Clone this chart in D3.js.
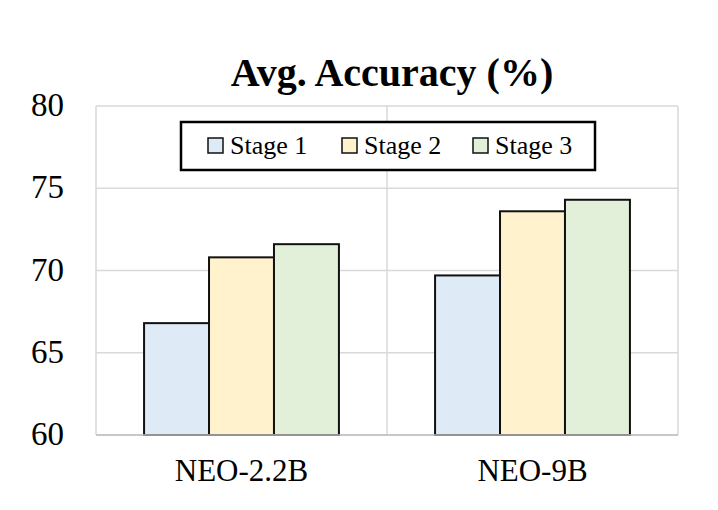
<!DOCTYPE html>
<html>
<head>
<meta charset="utf-8">
<script src="https://cdn.jsdelivr.net/npm/d3@7"></script>
<style>
  body { margin: 0; background: #fff; }
</style>
</head>
<body>
<div id="chart"></div>
<script>
// data
const models = ['NEO-2.2B', 'NEO-9B'];
const stages = ['Stage 1', 'Stage 2', 'Stage 3'];
const stage1 = [66.8, 69.7];
const stage2 = [70.8, 73.6];
const stage3 = [71.6, 74.3];
const yTicks = [60, 65, 70, 75, 80];

// measures
const width = 718, height = 510;
const margin = {top: 106, right: 40, bottom: 75, left: 96};

// colors
const fills = ['#deeaf6', '#fff2cc', '#e2efd9'];
const gridColor = '#d9d9d9';

const svg = d3.select('#chart').append('svg')
    .attr('width', width)
    .attr('height', height)
    .attr('font-family', "'Liberation Serif', 'Times New Roman', serif");

const x0 = d3.scaleBand()
    .domain(models)
    .range([margin.left, width - margin.right]);

const x1 = d3.scaleBand()
    .domain(stages)
    .range([0, x0.bandwidth()])
    .paddingOuter(0.74);

const y = d3.scaleLinear()
    .domain([60, 80])
    .range([height - margin.bottom, margin.top]);

// grid lines
svg.append('g')
    .selectAll('line')
    .data(yTicks)
    .join('line')
    .attr('x1', margin.left)
    .attr('x2', width - margin.right)
    .attr('y1', d => y(d))
    .attr('y2', d => y(d))
    .attr('stroke', gridColor)
    .attr('stroke-width', 1.5);

// vertical lines at category boundaries
const xEdges = [margin.left, margin.left + x0.bandwidth(), width - margin.right];
svg.append('g')
    .selectAll('line')
    .data(xEdges)
    .join('line')
    .attr('x1', d => d)
    .attr('x2', d => d)
    .attr('y1', y(80))
    .attr('y2', y(60))
    .attr('stroke', gridColor)
    .attr('stroke-width', 1.5);

// bars
const rows = models.map((m, i) => ({
    model: m,
    values: [stage1[i], stage2[i], stage3[i]]
}));

const groups = svg.append('g')
    .selectAll('g')
    .data(rows)
    .join('g')
    .attr('transform', d => `translate(${x0(d.model)},0)`);

groups.selectAll('rect')
    .data(d => d.values.map((v, j) => ({stage: stages[j], value: v, j: j})))
    .join('rect')
    .attr('x', d => x1(d.stage))
    .attr('y', d => y(d.value))
    .attr('width', x1.bandwidth())
    .attr('height', d => y(60) - y(d.value))
    .attr('fill', d => fills[d.j])
    .attr('stroke', '#111')
    .attr('stroke-width', 2);

// bottom axis line
svg.append('line')
    .attr('x1', margin.left)
    .attr('x2', width - margin.right)
    .attr('y1', y(60))
    .attr('y2', y(60))
    .attr('stroke', '#bfbfbf')
    .attr('stroke-width', 1.5);

// y tick labels
svg.append('g')
    .selectAll('text')
    .data(yTicks)
    .join('text')
    .attr('x', 64)
    .attr('y', d => y(d) + 10)
    .attr('text-anchor', 'end')
    .attr('font-size', 33)
    .attr('fill', '#000')
    .text(d => d);

// x labels
svg.append('g')
    .selectAll('text')
    .data(models)
    .join('text')
    .attr('x', d => x0(d) + x0.bandwidth() / 2)
    .attr('y', 481)
    .attr('text-anchor', 'middle')
    .attr('font-size', 31)
    .attr('fill', '#000')
    .text(d => d);

// title
svg.append('text')
    .attr('x', 392)
    .attr('y', 86)
    .attr('text-anchor', 'middle')
    .attr('font-size', 40)
    .attr('font-weight', 'bold')
    .text('Avg. Accuracy (%)');

// legend
const legend = svg.append('g');
legend.append('rect')
    .attr('x', 181)
    .attr('y', 122)
    .attr('width', 414)
    .attr('height', 48)
    .attr('fill', '#fff')
    .attr('stroke', '#000')
    .attr('stroke-width', 2.5);

const legendX = [208, 342, 473];
const items = legend.selectAll('g.item')
    .data(stages)
    .join('g')
    .attr('class', 'item')
    .attr('transform', (d, i) => `translate(${legendX[i]},138)`);

items.append('rect')
    .attr('width', 15)
    .attr('height', 15)
    .attr('fill', (d, i) => fills[i])
    .attr('stroke', '#111')
    .attr('stroke-width', 1.5);

items.append('text')
    .attr('x', 22)
    .attr('y', 15.5)
    .attr('font-size', 26)
    .text(d => d);
</script>
</body>
</html>
